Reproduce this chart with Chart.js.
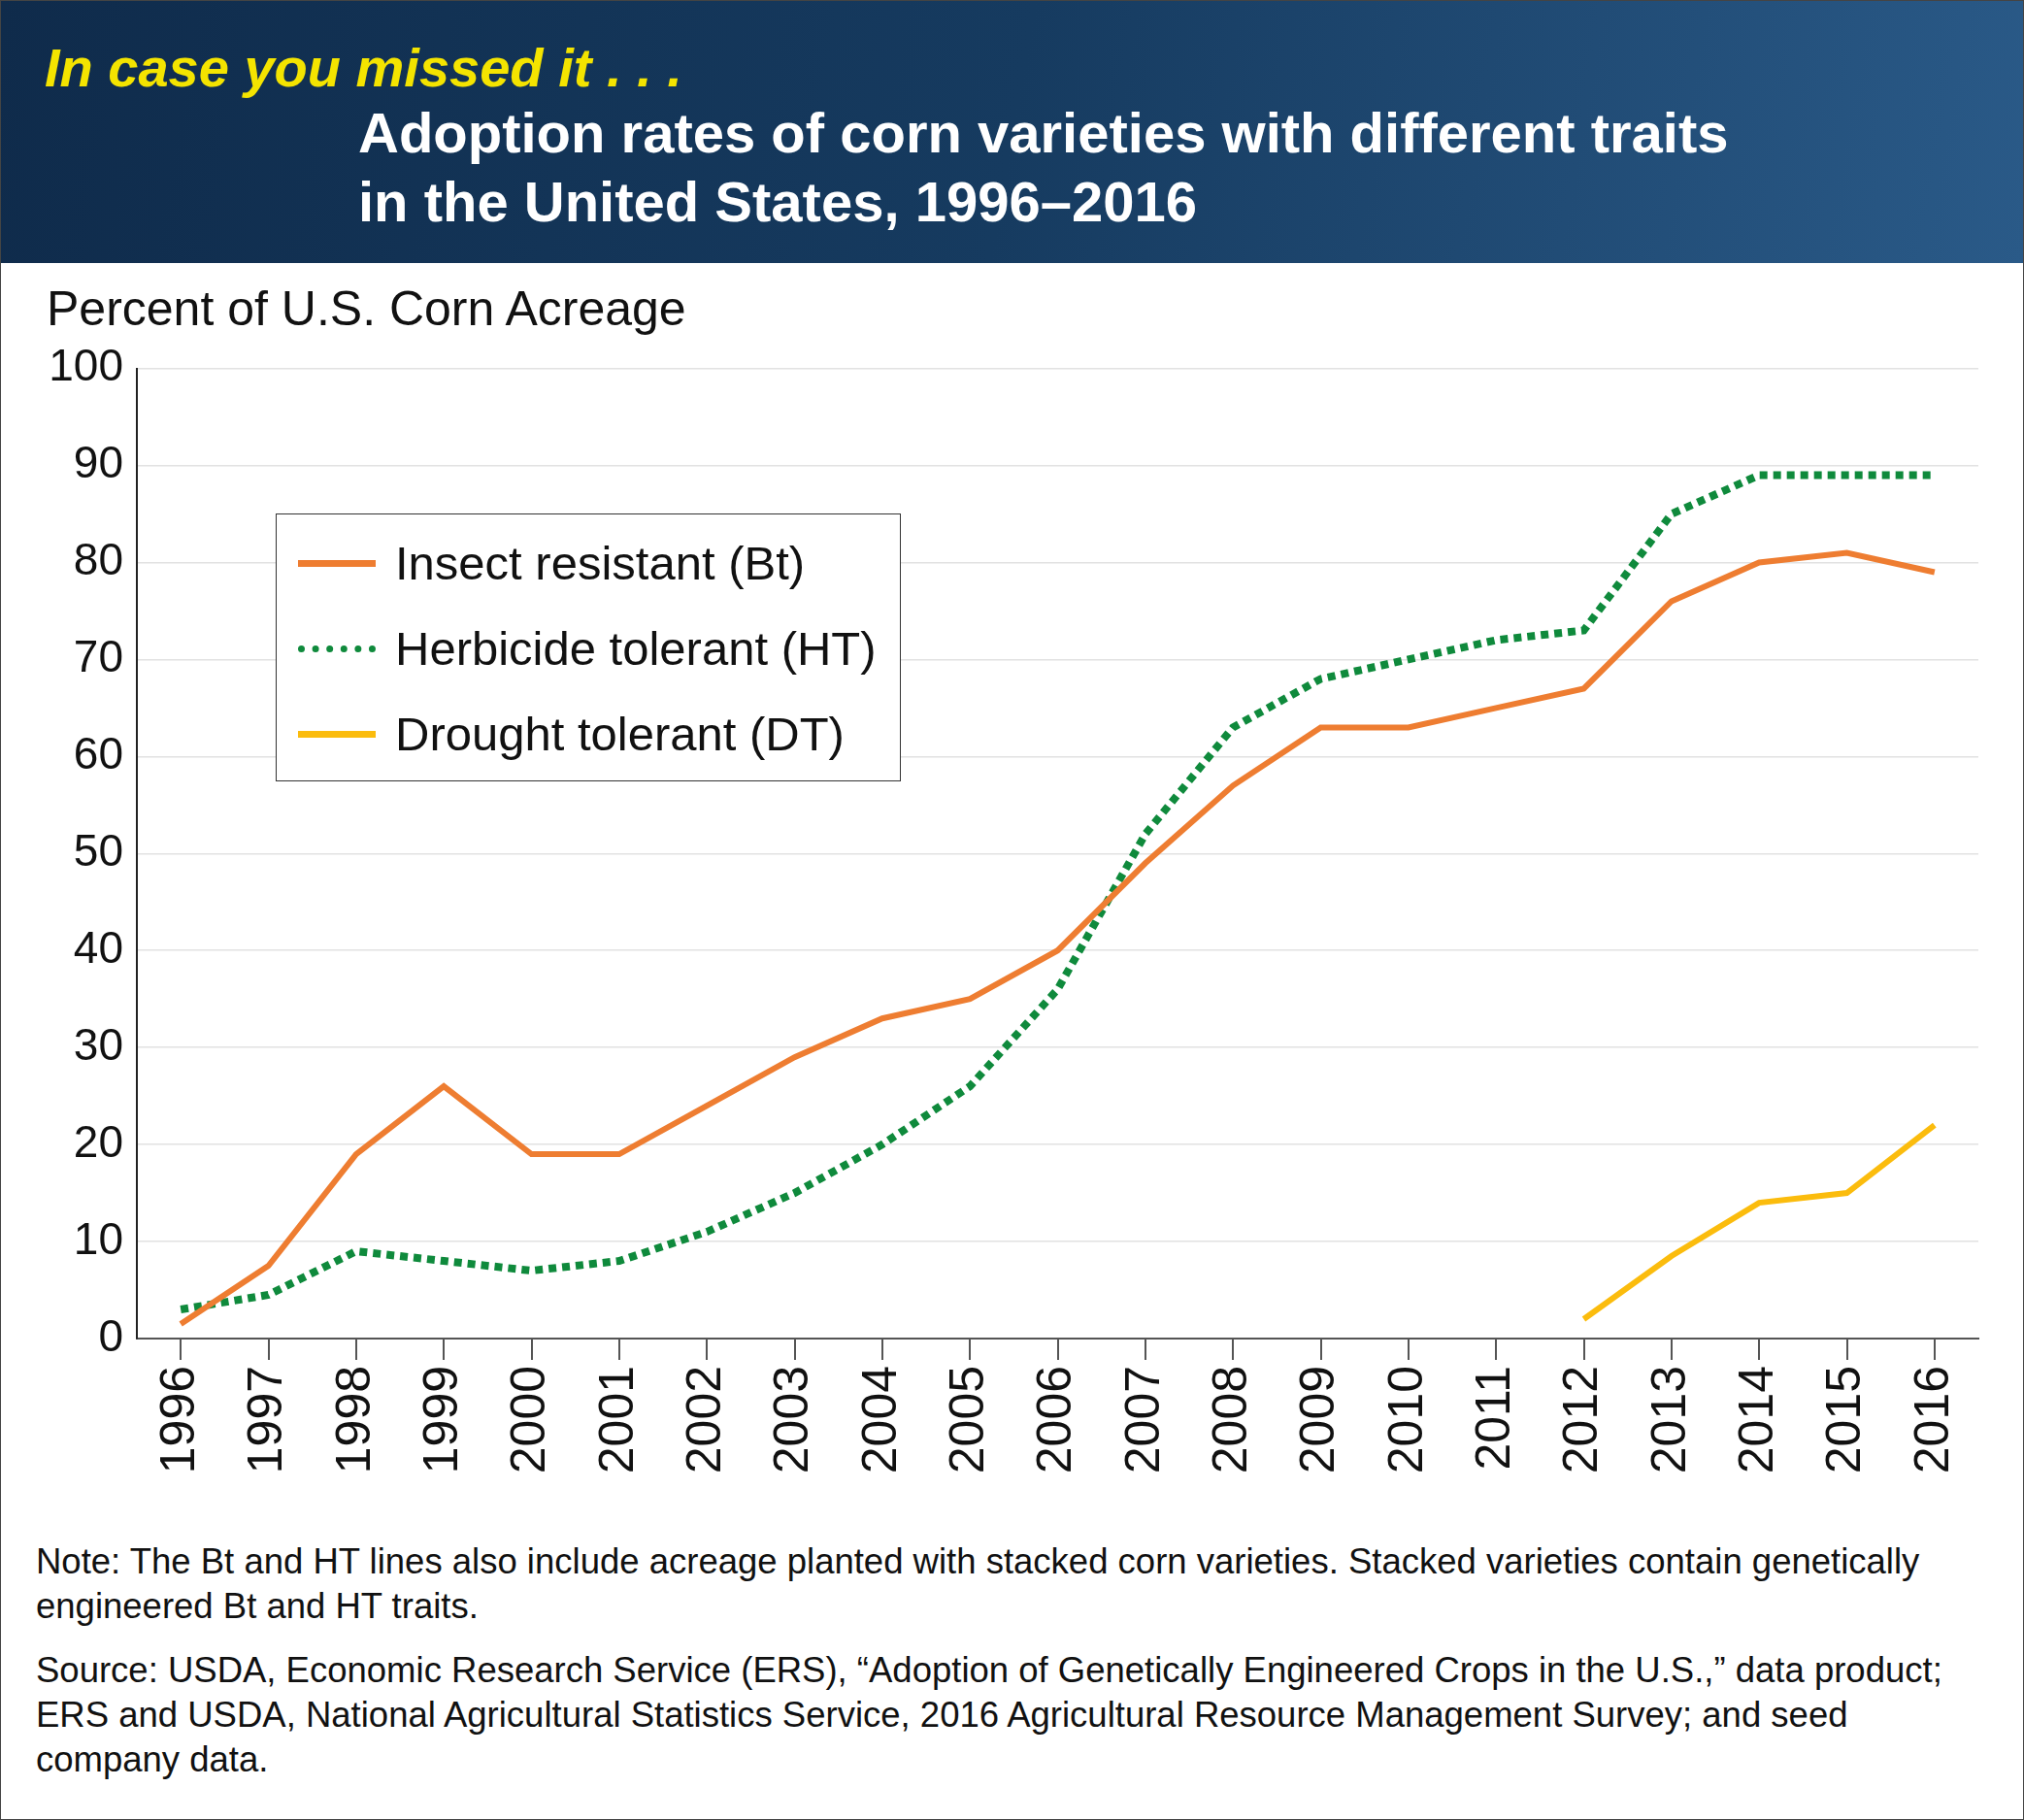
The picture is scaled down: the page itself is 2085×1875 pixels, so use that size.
<!DOCTYPE html>
<html><head><meta charset="utf-8">
<script src="https://cdn.jsdelivr.net/npm/chart.js@4"></script>
<style>
body{margin:0;background:#fff;font-family:"Liberation Sans",Arial,sans-serif;}
#page{position:relative;width:2083px;height:1873px;border:1px solid #444;overflow:hidden;background:#fff}
#hdr{position:absolute;left:0;top:0;width:2083px;height:270px;background:linear-gradient(100deg,#0f2b4b 0%,#163b60 50%,#2a5a88 100%)}
.t{position:absolute;white-space:nowrap}
#cw{position:absolute;left:0;top:337px;width:2060px;height:1223px}
#leg{position:absolute;left:283px;top:528px;width:642px;height:274px;border:1.5px solid #333;background:#fff}
.li{position:absolute;left:22px;font-size:49px;color:#111}
.sw{display:inline-block;width:80px;height:0;vertical-align:middle;margin-right:20px;position:relative;top:-4px}
.note{position:absolute;left:36px;font-size:36.5px;color:#111;line-height:46px}
</style></head><body>
<div id="page">
<div id="hdr"></div>
<div class="t" style="left:45px;top:36px;font-size:56px;font-weight:bold;font-style:italic;color:#f4e400">In case you missed it . . .</div>
<div class="t" style="left:368px;top:100px;font-size:58px;font-weight:bold;color:#fff;line-height:71px">Adoption rates of corn varieties with different traits<br>in the United States, 1996–2016</div>
<div class="t" style="left:47px;top:288px;font-size:50px;color:#111">Percent of U.S. Corn Acreage</div>
<div id="cw"><canvas id="c"></canvas></div>
<div id="leg">
<div class="li" style="top:22px"><span class="sw" style="border-top:7px solid #ee7d31"></span>Insect resistant (Bt)</div>
<div class="li" style="top:110px"><span class="sw" style="border-top:7px dotted #0f8a3c"></span>Herbicide tolerant (HT)</div>
<div class="li" style="top:198px"><span class="sw" style="border-top:7px solid #fbbc0d"></span>Drought tolerant (DT)</div>
</div>
<div class="note" style="top:1585px">Note: The Bt and HT lines also include acreage planted with stacked corn varieties. Stacked varieties contain genetically<br>engineered Bt and HT traits.</div>
<div class="note" style="top:1697px">Source: USDA, Economic Research Service (ERS), “Adoption of Genetically Engineered Crops in the U.S.,” data product;<br>ERS and USDA, National Agricultural Statistics Service, 2016 Agricultural Resource Management Survey; and seed<br>company data.</div>
</div>
<script>
const years=["1996","1997","1998","1999","2000","2001","2002","2003","2004","2005","2006","2007","2008","2009","2010","2011","2012","2013","2014","2015","2016"];
const bt=[1.5,7.5,19,26,19,19,24,29,33,35,40,49,57,63,63,65,67,76,80,81,79];
const ht=[3,4.5,9,8,7,8,11,15,20,26,36,52,63,68,70,72,73,85,89,89,89];
const dt=[null,null,null,null,null,null,null,null,null,null,null,null,null,null,null,null,2,8.5,14,15,22];
const yTicks=[0,10,20,30,40,50,60,70,80,90,100];
new Chart(document.getElementById('c'),{type:'line',
data:{labels:years,datasets:[
{data:bt,borderColor:'#ee7d31',borderWidth:6,pointRadius:0,tension:0},
{data:ht,borderColor:'#0f8a3c',borderWidth:8,borderDash:[8,6],pointRadius:0,tension:0},
{data:dt,borderColor:'#fbbc0d',borderWidth:6,pointRadius:0,tension:0}]},
options:{responsive:true,maintainAspectRatio:false,animation:false,
layout:{padding:{top:19,right:23,left:0,bottom:0}},
plugins:{legend:{display:false},tooltip:{enabled:false}},
scales:{
x:{offset:true,grid:{display:true,drawOnChartArea:false,drawTicks:true,tickLength:22,color:'#555',lineWidth:2,offset:false},
 border:{color:'#555',width:2},
 ticks:{minRotation:90,maxRotation:90,autoSkip:false,color:'#111',padding:6,font:{size:50,family:'Liberation Sans'}},
 afterFit(a){a.height=182;}},
y:{min:0,max:100,grid:{color:'#e2e2e2',lineWidth:1.5,drawTicks:false},border:{color:'#222',width:2},
 afterBuildTicks(a){a.ticks=yTicks.map(v=>({value:v}));},
 ticks:{color:'#111',padding:14,font:{size:46,family:'Liberation Sans'}},
 afterFit(a){a.width=140;}}}}});
</script>
</body></html>
